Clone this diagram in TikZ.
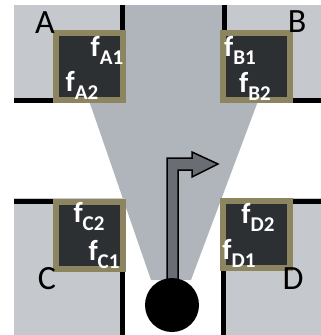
\documentclass[tikz,border=0pt]{standalone}
\usepackage{xcolor}
\usepackage{fontspec}
\setmainfont{Carlito}
\usepackage{tikz}
\usetikzlibrary{positioning}
\definecolor{pared}{RGB}{197,201,206}
\definecolor{cono}{RGB}{176,181,188}
\definecolor{oliva}{RGB}{140,133,95}
\definecolor{oscuro}{RGB}{45,48,51}
\definecolor{flecha}{RGB}{106,109,115}
\newcommand{\fsub}[1]{{\fontsize{29}{29}\selectfont f}\raisebox{-8pt}{\fontsize{21}{21}\selectfont #1}}

\begin{document}
\begin{tikzpicture}[
  x=1pt, y=-1pt,
  block/.style={fill=pared},
  wall/.style={line width=5pt, black},
  room/.style={draw=oliva, line width=6pt, fill=oscuro, minimum size=67pt,
               inner sep=0pt},
  corner/.style={inner sep=0pt, font=\fontsize{34}{34}\selectfont},
  flab/.style={inner sep=0pt, text=white, font=\bfseries},
]
  \useasboundingbox (0,0) rectangle (321,335);
  % cono de vision
  \fill[cono] (56,5) -- (294,5) -- (191,280) -- (151,280) -- cycle;
  % esquinas
  \fill[block] (14,5) rectangle (125,103);
  \fill[block] (222,5) rectangle (321,103);
  \fill[block] (14,198) rectangle (125,335);
  \fill[block] (222,198) rectangle (321,335);
  \draw[wall] (122,5) -- (122,32);
  \draw[wall] (14,100) -- (54,100);
  \draw[wall] (224,5) -- (224,32);
  \draw[wall] (291,100) -- (321,100);
  \draw[wall] (14,201) -- (54,201);
  \draw[wall] (122,270) -- (122,335);
  \draw[wall] (291,201) -- (321,201);
  \draw[wall] (223,269) -- (223,335);

  \node[room] (rA) at (89,66.5) {};
  \node[room] (rB) at (256.5,66.5) {};
  \node[room] (rC) at (89,235) {};
  \node[room] (rD) at (256.5,234.5) {};

  \node[corner] (lA) at (45,23) {A};
  \node[corner] (lB) at (297,22) {B};
  \node[corner] (lC) at (47,279) {C};
  \node[corner] (lD) at (293,279) {D};

  \node[flab] (fA1) at (107,50) {\fsub{A1}};
  \node[flab] (fA2) at (82,85) {\fsub{A2}};
  \node[flab] (fB1) at (240,50) {\fsub{B1}};
  \node[flab] (fB2) at (255,86) {\fsub{B2}};
  \node[flab] (fC2) at (89,216) {\fsub{C2}};
  \node[flab] (fC1) at (104,254) {\fsub{C1}};
  \node[flab] (fD2) at (258,217) {\fsub{D2}};
  \node[flab] (fD1) at (239,253) {\fsub{D1}};

  % robot y direccion
  \draw[fill=flecha, line width=1.5pt, line join=miter]
    (167,295) -- (167,158) -- (192,158) -- (192,152) -- (218,164)
    -- (192,177) -- (192,170) -- (178,170) -- (178,295) -- cycle;
  \node[circle, fill=black, minimum size=54pt, inner sep=0pt] (robot) at (172,305) {};
\end{tikzpicture}
\end{document}
